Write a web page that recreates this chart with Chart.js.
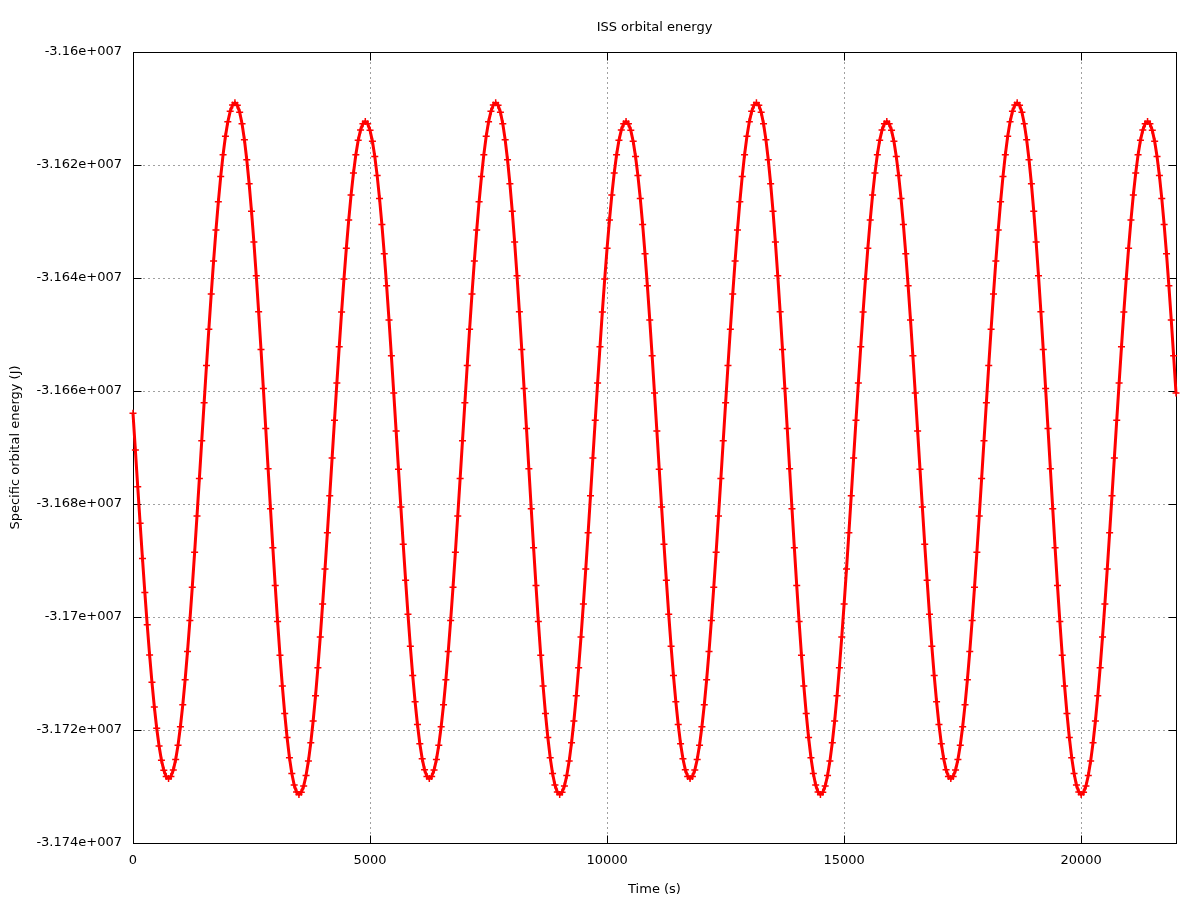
<!DOCTYPE html>
<html lang="en">
<head>
    <meta charset="UTF-8">
    <title>ISS orbital energy</title>
    <script src="https://cdn.jsdelivr.net/npm/chart.js"></script>
    <style>
        html, body { margin: 0; padding: 0; background: #fff; }
        #wrap { width: 1200px; height: 900px; }
    </style>
</head>
<body>
    <div id="wrap"><canvas id="energyChart" width="1200" height="900"></canvas></div>

    <script>
        // Sample times (s)
        const timeS = [
            0, 50, 100, 150, 200, 250, 300, 350, 400, 450, 500, 550, 600, 650, 700, 750, 800, 850, 900, 950,
            1000, 1050, 1100, 1150, 1200, 1250, 1300, 1350, 1400, 1450, 1500, 1550, 1600, 1650, 1700, 1750, 1800, 1850, 1900, 1950,
            2000, 2050, 2100, 2150, 2200, 2250, 2300, 2350, 2400, 2450, 2500, 2550, 2600, 2650, 2700, 2750, 2800, 2850, 2900, 2950,
            3000, 3050, 3100, 3150, 3200, 3250, 3300, 3350, 3400, 3450, 3500, 3550, 3600, 3650, 3700, 3750, 3800, 3850, 3900, 3950,
            4000, 4050, 4100, 4150, 4200, 4250, 4300, 4350, 4400, 4450, 4500, 4550, 4600, 4650, 4700, 4750, 4800, 4850, 4900, 4950,
            5000, 5050, 5100, 5150, 5200, 5250, 5300, 5350, 5400, 5450, 5500, 5550, 5600, 5650, 5700, 5750, 5800, 5850, 5900, 5950,
            6000, 6050, 6100, 6150, 6200, 6250, 6300, 6350, 6400, 6450, 6500, 6550, 6600, 6650, 6700, 6750, 6800, 6850, 6900, 6950,
            7000, 7050, 7100, 7150, 7200, 7250, 7300, 7350, 7400, 7450, 7500, 7550, 7600, 7650, 7700, 7750, 7800, 7850, 7900, 7950,
            8000, 8050, 8100, 8150, 8200, 8250, 8300, 8350, 8400, 8450, 8500, 8550, 8600, 8650, 8700, 8750, 8800, 8850, 8900, 8950,
            9000, 9050, 9100, 9150, 9200, 9250, 9300, 9350, 9400, 9450, 9500, 9550, 9600, 9650, 9700, 9750, 9800, 9850, 9900, 9950,
            10000, 10050, 10100, 10150, 10200, 10250, 10300, 10350, 10400, 10450, 10500, 10550, 10600, 10650, 10700, 10750, 10800, 10850, 10900, 10950,
            11000, 11050, 11100, 11150, 11200, 11250, 11300, 11350, 11400, 11450, 11500, 11550, 11600, 11650, 11700, 11750, 11800, 11850, 11900, 11950,
            12000, 12050, 12100, 12150, 12200, 12250, 12300, 12350, 12400, 12450, 12500, 12550, 12600, 12650, 12700, 12750, 12800, 12850, 12900, 12950,
            13000, 13050, 13100, 13150, 13200, 13250, 13300, 13350, 13400, 13450, 13500, 13550, 13600, 13650, 13700, 13750, 13800, 13850, 13900, 13950,
            14000, 14050, 14100, 14150, 14200, 14250, 14300, 14350, 14400, 14450, 14500, 14550, 14600, 14650, 14700, 14750, 14800, 14850, 14900, 14950,
            15000, 15050, 15100, 15150, 15200, 15250, 15300, 15350, 15400, 15450, 15500, 15550, 15600, 15650, 15700, 15750, 15800, 15850, 15900, 15950,
            16000, 16050, 16100, 16150, 16200, 16250, 16300, 16350, 16400, 16450, 16500, 16550, 16600, 16650, 16700, 16750, 16800, 16850, 16900, 16950,
            17000, 17050, 17100, 17150, 17200, 17250, 17300, 17350, 17400, 17450, 17500, 17550, 17600, 17650, 17700, 17750, 17800, 17850, 17900, 17950,
            18000, 18050, 18100, 18150, 18200, 18250, 18300, 18350, 18400, 18450, 18500, 18550, 18600, 18650, 18700, 18750, 18800, 18850, 18900, 18950,
            19000, 19050, 19100, 19150, 19200, 19250, 19300, 19350, 19400, 19450, 19500, 19550, 19600, 19650, 19700, 19750, 19800, 19850, 19900, 19950,
            20000, 20050, 20100, 20150, 20200, 20250, 20300, 20350, 20400, 20450, 20500, 20550, 20600, 20650, 20700, 20750, 20800, 20850, 20900, 20950,
            21000, 21050, 21100, 21150, 21200, 21250, 21300, 21350, 21400, 21450, 21500, 21550, 21600, 21650, 21700, 21750, 21800, 21850, 21900, 21950,
            22000
        ];

        // Specific orbital energy (J), one value per sample time
        const energyJ = [
            // 0 - 700
            -31663940, -31670450, -31676960, -31683390, -31689660, -31695680, -31701390, -31706710, -31711570, -31715910,
            -31719690, -31722840, -31725340, -31727140, -31728230,
            // 750 - 6200
            -31728600, -31728220, -31727100, -31725240, -31722680, -31719430, -31715550, -31711090, -31706090, -31700620,
            -31694750, -31688550, -31682110, -31675500, -31668800, -31662100, -31655490, -31649050, -31642850, -31636990,
            -31631520, -31626520, -31622050, -31618170, -31614920, -31612360, -31610500, -31609380,
            -31609000, -31609410, -31610650, -31612690, -31615510, -31619070, -31623320, -31628200, -31633650, -31639600,
            -31645960, -31652650, -31659570, -31666640, -31673760, -31680830, -31687750, -31694440, -31700800, -31706750,
            -31712200, -31717080, -31721330, -31724890, -31727710, -31729750, -31730990,
            -31731400, -31731030, -31729910, -31728060, -31725500, -31722270, -31718410, -31713960, -31708980, -31703530,
            -31697690, -31691520, -31685100, -31678520, -31671850, -31665180, -31658600, -31652180, -31646010, -31640170,
            -31634720, -31629740, -31625290, -31621430, -31618200, -31615640, -31613790, -31612680,
            -31612300, -31612690, -31613870, -31615810, -31618490, -31621870, -31625910, -31630550, -31635730, -31641380,
            -31647420, -31653770, -31660350, -31667070, -31673830, -31680550, -31687130, -31693480, -31699530, -31705180,
            -31710360, -31715000, -31719030, -31722420, -31725090, -31727030, -31728210,
            // 6250 - 11700
            -31728600, -31728220, -31727100, -31725240, -31722680, -31719430, -31715550, -31711090, -31706090, -31700620,
            -31694750, -31688550, -31682110, -31675500, -31668800, -31662100, -31655490, -31649050, -31642850, -31636990,
            -31631520, -31626520, -31622050, -31618170, -31614920, -31612360, -31610500, -31609380,
            -31609000, -31609410, -31610650, -31612690, -31615510, -31619070, -31623320, -31628200, -31633650, -31639600,
            -31645960, -31652650, -31659570, -31666640, -31673760, -31680830, -31687750, -31694440, -31700800, -31706750,
            -31712200, -31717080, -31721330, -31724890, -31727710, -31729750, -31730990,
            -31731400, -31731030, -31729910, -31728060, -31725500, -31722270, -31718410, -31713960, -31708980, -31703530,
            -31697690, -31691520, -31685100, -31678520, -31671850, -31665180, -31658600, -31652180, -31646010, -31640170,
            -31634720, -31629740, -31625290, -31621430, -31618200, -31615640, -31613790, -31612680,
            -31612300, -31612690, -31613870, -31615810, -31618490, -31621870, -31625910, -31630550, -31635730, -31641380,
            -31647420, -31653770, -31660350, -31667070, -31673830, -31680550, -31687130, -31693480, -31699530, -31705180,
            -31710360, -31715000, -31719030, -31722420, -31725090, -31727030, -31728210,
            // 11750 - 17200
            -31728600, -31728220, -31727100, -31725240, -31722680, -31719430, -31715550, -31711090, -31706090, -31700620,
            -31694750, -31688550, -31682110, -31675500, -31668800, -31662100, -31655490, -31649050, -31642850, -31636990,
            -31631520, -31626520, -31622050, -31618170, -31614920, -31612360, -31610500, -31609380,
            -31609000, -31609410, -31610650, -31612690, -31615510, -31619070, -31623320, -31628200, -31633650, -31639600,
            -31645960, -31652650, -31659570, -31666640, -31673760, -31680830, -31687750, -31694440, -31700800, -31706750,
            -31712200, -31717080, -31721330, -31724890, -31727710, -31729750, -31730990,
            -31731400, -31731030, -31729910, -31728060, -31725500, -31722270, -31718410, -31713960, -31708980, -31703530,
            -31697690, -31691520, -31685100, -31678520, -31671850, -31665180, -31658600, -31652180, -31646010, -31640170,
            -31634720, -31629740, -31625290, -31621430, -31618200, -31615640, -31613790, -31612680,
            -31612300, -31612690, -31613870, -31615810, -31618490, -31621870, -31625910, -31630550, -31635730, -31641380,
            -31647420, -31653770, -31660350, -31667070, -31673830, -31680550, -31687130, -31693480, -31699530, -31705180,
            -31710360, -31715000, -31719030, -31722420, -31725090, -31727030, -31728210,
            // 17250 - 22000
            -31728600, -31728220, -31727100, -31725240, -31722680, -31719430, -31715550, -31711090, -31706090, -31700620,
            -31694750, -31688550, -31682110, -31675500, -31668800, -31662100, -31655490, -31649050, -31642850, -31636990,
            -31631520, -31626520, -31622050, -31618170, -31614920, -31612360, -31610500, -31609380,
            -31609000, -31609410, -31610650, -31612690, -31615510, -31619070, -31623320, -31628200, -31633650, -31639600,
            -31645960, -31652650, -31659570, -31666640, -31673760, -31680830, -31687750, -31694440, -31700800, -31706750,
            -31712200, -31717080, -31721330, -31724890, -31727710, -31729750, -31730990,
            -31731400, -31731030, -31729910, -31728060, -31725500, -31722270, -31718410, -31713960, -31708980, -31703530,
            -31697690, -31691520, -31685100, -31678520, -31671850, -31665180, -31658600, -31652180, -31646010, -31640170,
            -31634720, -31629740, -31625290, -31621430, -31618200, -31615640, -31613790, -31612680,
            -31612300, -31612690, -31613870, -31615810, -31618490, -31621870, -31625910, -31630550, -31635730, -31641380,
            -31647420, -31653770, -31660350
        ];

        // Axis ticks
        const xTicks = [0, 5000, 10000, 15000, 20000];
        const yTicks = [-31740000, -31720000, -31700000, -31680000, -31660000, -31640000, -31620000, -31600000];

        const font = { family: 'DejaVu Sans', size: 13 };

        // gnuplot-style "%g" label on windows: -3.162e+007
        function sciLabel(v) {
            const m = parseFloat((v / 1e7).toFixed(4));
            return m + 'e+007';
        }

        // frame with inward tick marks on all four sides
        const framePlugin = {
            id: 'frame',
            beforeDatasetsDraw(chart) {
                const { ctx, chartArea: a, scales: { x, y } } = chart;
                const L = Math.round(a.left) + 0.5, R = Math.round(a.right) + 0.5;
                const T = Math.round(a.top) + 0.5, B = Math.round(a.bottom) + 0.5;
                const len = 8;
                ctx.save();
                ctx.strokeStyle = '#000';
                ctx.lineWidth = 1;
                ctx.beginPath();
                xTicks.forEach(v => {
                    const px = Math.round(x.getPixelForValue(v)) + 0.5;
                    ctx.moveTo(px, B); ctx.lineTo(px, B - len);
                    ctx.moveTo(px, T); ctx.lineTo(px, T + len);
                });
                yTicks.forEach(v => {
                    const py = Math.round(y.getPixelForValue(v)) + 0.5;
                    ctx.moveTo(L, py); ctx.lineTo(L + len, py);
                    ctx.moveTo(R, py); ctx.lineTo(R - len, py);
                });
                ctx.stroke();
                ctx.strokeRect(L, T, R - L, B - T);
                ctx.restore();
            }
        };

        const points = timeS.map((t, i) => ({ x: t, y: energyJ[i] }));

        new Chart(document.getElementById('energyChart'), {
            type: 'line',
            data: {
                datasets: [{
                    data: points,
                    borderColor: '#ff0000',
                    borderWidth: 3,
                    pointStyle: 'cross',
                    pointRadius: 3.5,
                    pointBorderWidth: 1.5,
                    pointBorderColor: '#ff0000',
                    pointBackgroundColor: '#ff0000',
                    fill: false,
                    tension: 0,
                    clip: false
                }]
            },
            options: {
                responsive: false,
                animation: false,
                devicePixelRatio: 1,
                layout: { padding: { left: 0, right: 24, top: 0, bottom: 0 } },
                plugins: {
                    legend: { display: false },
                    tooltip: { enabled: false },
                    title: {
                        display: true,
                        text: 'ISS orbital energy',
                        fullSize: false,
                        color: '#000',
                        font: { family: 'DejaVu Sans', size: 13, weight: 'normal' },
                        padding: { top: 20, bottom: 16.4 }
                    }
                },
                scales: {
                    x: {
                        type: 'linear',
                        min: 0,
                        max: 22000,
                        afterBuildTicks(s) { s.ticks = xTicks.map(v => ({ value: v })); },
                        afterFit(s) { s.height = 57; },
                        ticks: { color: '#000', font, padding: 10, maxRotation: 0, callback: v => String(v) },
                        grid: { color: '#a0a0a0', lineWidth: 1, drawTicks: false },
                        border: { display: false, dash: [2, 3] },
                        title: { display: true, text: 'Time (s)', color: '#000', font, padding: { top: 0, bottom: 3 } }
                    },
                    y: {
                        type: 'linear',
                        min: -31740000,
                        max: -31600000,
                        afterBuildTicks(s) { s.ticks = yTicks.map(v => ({ value: v })); },
                        afterFit(s) { s.width = 133; },
                        ticks: { color: '#000', font, padding: 11, callback: v => sciLabel(v) },
                        grid: { color: '#a0a0a0', lineWidth: 1, drawTicks: false },
                        border: { display: false, dash: [2, 3] },
                        title: { display: true, text: 'Specific orbital energy (J)', color: '#000', font, padding: { top: 8, bottom: 0 } }
                    }
                }
            },
            plugins: [framePlugin]
        });
    </script>
</body>
</html>
